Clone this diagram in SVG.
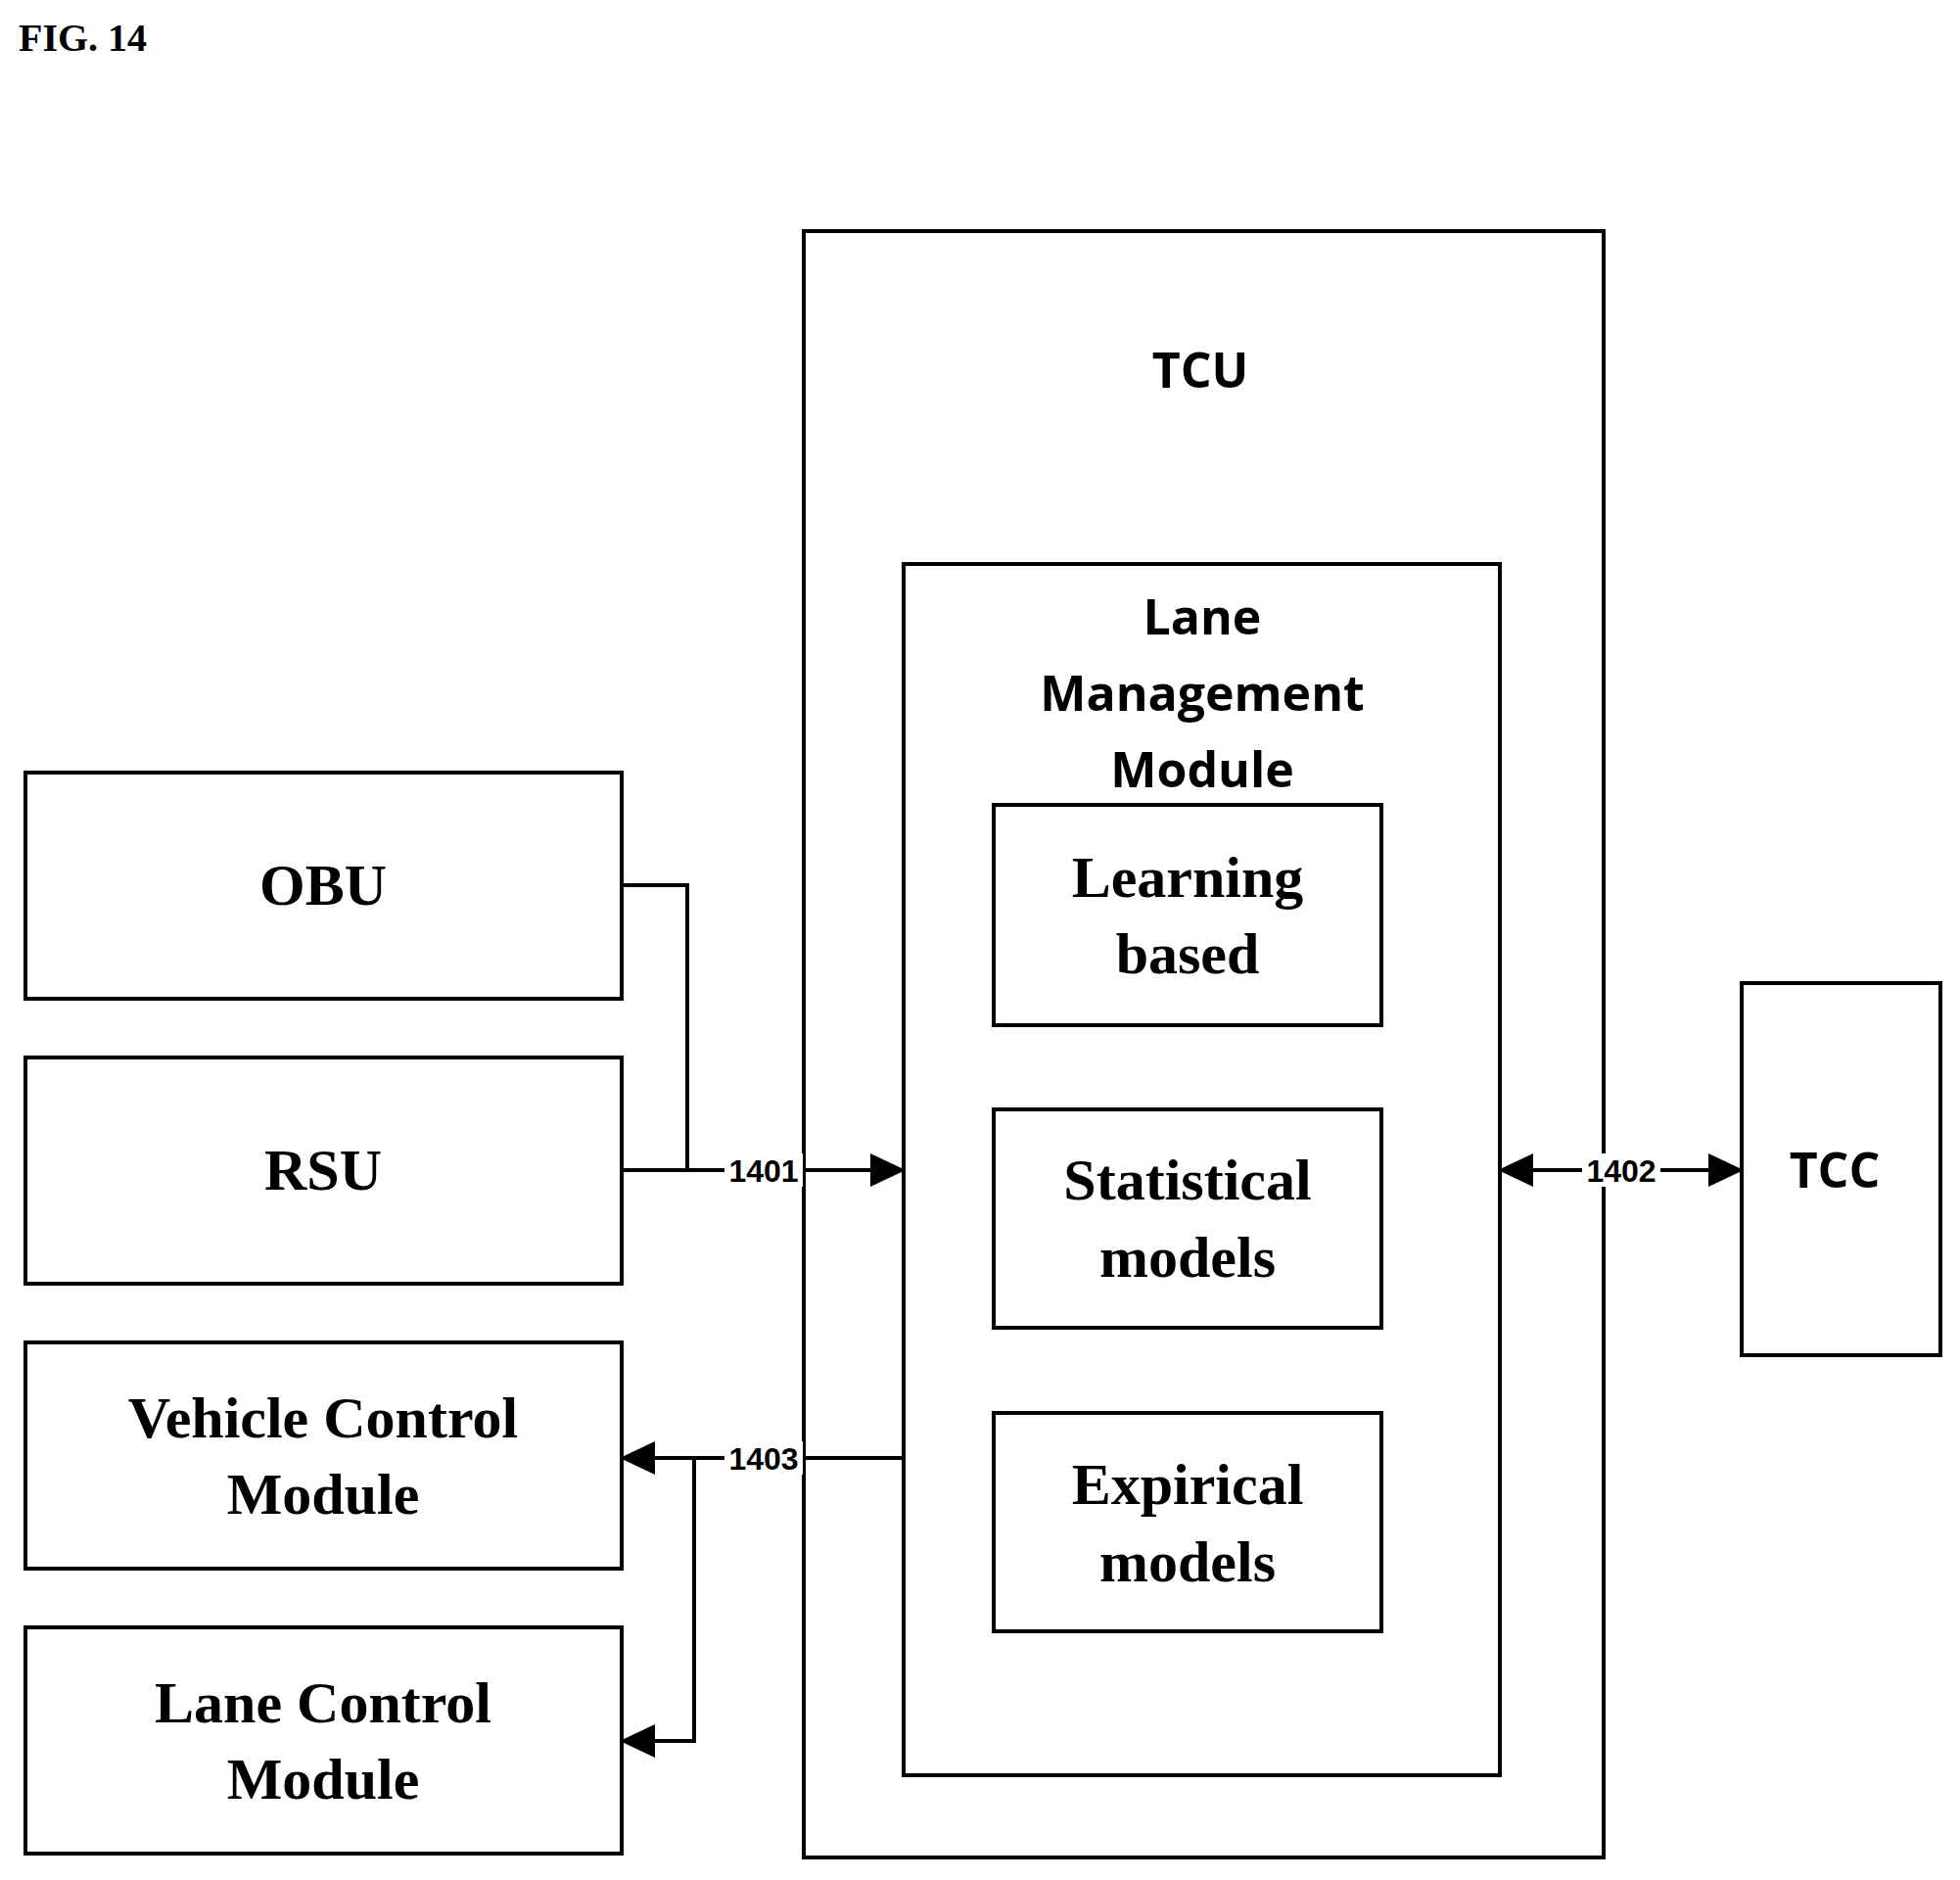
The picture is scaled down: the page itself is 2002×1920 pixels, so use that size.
<svg xmlns="http://www.w3.org/2000/svg" width="2002" height="1920" viewBox="0 0 2002 1920">
<defs>
<style>
rect.b{fill:#fff;stroke:#000;stroke-width:4}
.s{font-family:"Liberation Serif",serif;font-weight:bold;font-size:60px;text-anchor:middle}
.a{font-family:"Open Sans","Liberation Sans",sans-serif;font-weight:bold;font-size:50px;text-anchor:middle}
.l{font-family:"Liberation Sans",sans-serif;font-weight:bold;font-size:32px;text-anchor:middle}
line,polyline{stroke:#000;stroke-width:4;fill:none}
</style>
<marker id="ar" markerWidth="10" markerHeight="10" refX="9" refY="5" orient="auto-start-reverse" markerUnits="userSpaceOnUse" viewBox="0 0 10 10"><path d="M0,0 L10,5 L0,10 z" fill="#000" transform="scale(1)"/></marker>
<marker id="a2" markerWidth="36" markerHeight="34" refX="34" refY="17" orient="auto-start-reverse" markerUnits="userSpaceOnUse"><path d="M0,0 L36,17 L0,34 z" fill="#000"/></marker>
</defs>
<rect width="2002" height="1920" fill="#fff"/>
<text x="19" y="52" font-family="Liberation Serif,serif" font-weight="bold" font-size="40">FIG. 14</text>
<g id="tcu"><rect class="b" x="821" y="236" width="817" height="1661"/><text class="a" x="1226" y="396">TCU</text></g>
<g id="lmm"><rect class="b" x="923" y="576" width="609" height="1237"/>
<text class="a" x="1228" y="648">Lane</text><text class="a" x="1228" y="726">Management</text><text class="a" x="1228" y="804">Module</text></g>
<g id="learning"><rect class="b" x="1015" y="822" width="396" height="225"/><text class="s" x="1213" y="916">Learning</text><text class="s" x="1213" y="994">based</text></g>
<g id="statistical"><rect class="b" x="1015" y="1133" width="396" height="223"/><text class="s" x="1213" y="1225">Statistical</text><text class="s" x="1213" y="1304">models</text></g>
<g id="expirical"><rect class="b" x="1015" y="1443" width="396" height="223"/><text class="s" x="1213" y="1536">Expirical</text><text class="s" x="1213" y="1615">models</text></g>
<g id="obu"><rect class="b" x="26" y="789" width="609" height="231"/><text class="s" x="330" y="924">OBU</text></g>
<g id="rsu"><rect class="b" x="26" y="1080" width="609" height="231"/><text class="s" x="330" y="1215">RSU</text></g>
<g id="vcm"><rect class="b" x="26" y="1371" width="609" height="231"/><text class="s" x="330" y="1468">Vehicle Control</text><text class="s" x="330" y="1546">Module</text></g>
<g id="lcm"><rect class="b" x="26" y="1662" width="609" height="231"/><text class="s" x="330" y="1759">Lane Control</text><text class="s" x="330" y="1837">Module</text></g>
<g id="tcc"><rect class="b" x="1779" y="1004" width="203" height="380"/><text class="a" x="1874" y="1213">TCC</text></g>
<g id="connectors">
<polyline points="635,904 702,904 702,1195"/>
<line x1="635" y1="1195" x2="923" y2="1195" marker-end="url(#a2)"/>
<line x1="923" y1="1489" x2="635" y2="1489" marker-end="url(#a2)"/>
<polyline points="709,1489 709,1778 635,1778" marker-end="url(#a2)"/>
<line x1="1532" y1="1195" x2="1779" y2="1195" marker-start="url(#a2)" marker-end="url(#a2)"/>
<rect x="740" y="1178" width="80" height="34" fill="#fff"/><text class="l" x="780" y="1207">1401</text>
<rect x="740" y="1472" width="80" height="34" fill="#fff"/><text class="l" x="780" y="1501">1403</text>
<rect x="1616" y="1178" width="80" height="34" fill="#fff"/><text class="l" x="1656" y="1207">1402</text>
</g>
</svg>
